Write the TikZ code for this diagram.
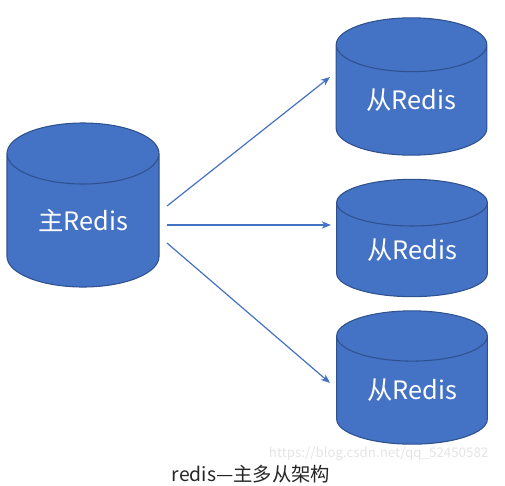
\documentclass[tikz,border=0pt]{standalone}
\usepackage{fontspec}
\usepackage{xcolor}
\usepackage{tikz}
\setmainfont{Noto Sans CJK SC}
\definecolor{dbblue}{RGB}{68,114,196}
\definecolor{dbedge}{RGB}{47,82,143}
\definecolor{mark}{RGB}{228,228,228}
\usetikzlibrary{shapes.geometric,arrows.meta}

\begin{document}
\begin{tikzpicture}[x=0.75pt, y=-0.75pt,
    db/.style={cylinder, shape border rotate=90, draw=dbedge, fill=dbblue,
        line width=0.8pt, text=white, inner sep=0pt, anchor=shape center,
        font=\fontsize{19}{23}\selectfont},
    link/.style={-{Stealth[length=7pt,width=5.5pt]}, dbblue, line width=0.9pt}]
    \useasboundingbox (0,0) rectangle (505,485);

    % Master
    \node[db, minimum width=114pt, minimum height=123pt, aspect=0.68] (master) at (83,205) {主Redis};

    % Slaves
    \node[db, minimum width=113pt, minimum height=103pt, aspect=0.6] (slaveA) at (411.5,86.5) {从Redis};
    \node[db, minimum width=113pt, minimum height=88pt, aspect=0.52] (slaveB) at (412,238) {从Redis};
    \node[db, minimum width=113pt, minimum height=100pt, aspect=0.56] (slaveC) at (412,377.5) {从Redis};

    % Replication arrows
    \draw[link] ([shift={(84,1)}]master.shape center) -- ([shift={(-81.5,-9.5)}]slaveA.shape center);
    \draw[link] ([shift={(84,20)}]master.shape center) -- ([shift={(-81,-13)}]slaveB.shape center);
    \draw[link] ([shift={(84,38)}]master.shape center) -- ([shift={(-82,5.5)}]slaveC.shape center);

    % Caption
    \node[text=mark, font=\fontsize{10}{12}\selectfont, anchor=east] (wm) at (493,454) {https://blog.csdn.net/qq\_52450582};
    \node[text=black!85, font=\fontsize{14.5}{17}\selectfont] (caption) at (251,474) {redis—主多从架构};
\end{tikzpicture}
\end{document}
